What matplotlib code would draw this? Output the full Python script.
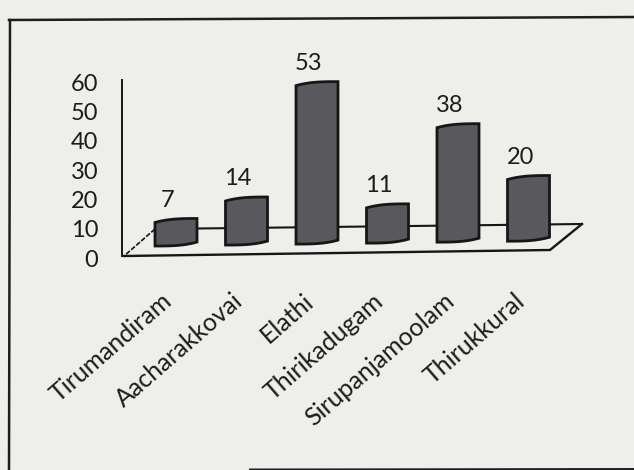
import matplotlib
matplotlib.use("Agg")
import matplotlib.pyplot as plt
from matplotlib.transforms import ScaledTranslation
import numpy as np

categories = ["Tirumandiram", "Aacharakkovai", "Elathi", "Thirikadugam", "Sirupanjamoolam", "Thirukkural"]
values = [7, 14, 53, 11, 38, 20]
yticks = [0, 10, 20, 30, 40, 50, 60]

W, H = 634, 470
BG = "#eeefeb"
BAR = "#58585d"
EDGE = "#161616"
TXT = "#1c1c1c"

plt.rcParams["font.family"] = ["Lato", "DejaVu Sans"]

fig = plt.figure(figsize=(W / 100, H / 100), dpi=100, facecolor=BG)

# axes box = plot area in pixels: x 124-550, y 80-256
ax = fig.add_axes([124 / W, 1 - 256 / H, (550 - 124) / W, (256 - 80) / H], facecolor="none")
ax.set_xlim((124 - 176) / 70.5, (550 - 176) / 70.5)
ax.set_ylim(0, 60)
px_y = 60 / 176  # data units per pixel

# photographed page border
fig.add_artist(plt.Line2D([9 / W, 10 / W], [0, 1 - 20 / H], color="#1e1e1e", lw=1.8))
fig.add_artist(plt.Line2D([9 / W, 1], [1 - 20 / H, 1 - 17 / H], color="#1e1e1e", lw=1.8))
fig.add_artist(plt.Line2D([250 / W, 1], [1 - 469.5 / H, 1 - 469 / H], color="#1e1e1e", lw=1.4))

# floor of the 3d chart
xr = ax.get_xlim()
floor_x = [xr[0], xr[1], xr[1] + 32 / 70.5, xr[0] + 31 / 70.5]
floor_y = [0, 6 * px_y, 32 * px_y, 27 * px_y]
ax.plot(floor_x[:3], floor_y[:3], color=EDGE, lw=1.7, clip_on=False, zorder=2)
ax.plot(floor_x[2:], floor_y[2:], color=EDGE, lw=1.5, clip_on=False, zorder=2)
ax.plot([floor_x[3], floor_x[0]], [floor_y[3], floor_y[0]], color=EDGE, lw=1.2, ls=(0, (3, 1)), clip_on=False, zorder=2)

# cylinders
half = 21 / 70.5
t = np.linspace(0, 1, 30)
for i, v in enumerate(values):
    base = 3.4 + 0.33 * i
    top = base + v + 7 * px_y
    xs = i - half + 2 * half * t
    top_line = top - 4 * px_y * (1 - t) ** 3
    bot_line = base + 4 * px_y * t ** 3
    ax.fill(np.r_[xs, xs[::-1]], np.r_[top_line, bot_line[::-1]],
            facecolor=BAR, edgecolor=EDGE, lw=2.0, clip_on=False, zorder=3)
    ax.annotate(str(v), xy=(i, top), xytext=(-6, 13), textcoords="offset points",
                ha="center", va="center", fontsize=17, color=TXT, annotation_clip=False)

for s in ["top", "right", "bottom"]:
    ax.spines[s].set_visible(False)
ax.spines["left"].set_color(EDGE)
ax.spines["left"].set_linewidth(1.4)
ax.spines["left"].set_position(("outward", 1.5))

ax.set_yticks(yticks)
ax.tick_params(axis="y", length=0, pad=17, labelsize=17, labelcolor=TXT)
ax.set_xticks(range(len(categories)))
ax.set_xticklabels(categories, rotation=41, ha="right", va="center", rotation_mode="anchor",
                   fontsize=18, color=TXT)
ax.tick_params(axis="x", length=0, pad=30)

# nudge labels to sit where the reference has them
for lab in ax.get_xticklabels():
    lab.set_transform(lab.get_transform() + ScaledTranslation(-5 / 72, 0, fig.dpi_scale_trans))
for lab in ax.get_yticklabels():
    lab.set_transform(lab.get_transform() + ScaledTranslation(0, -1.5 / 72, fig.dpi_scale_trans))

fig.savefig("out.png", dpi=100, facecolor=BG)
